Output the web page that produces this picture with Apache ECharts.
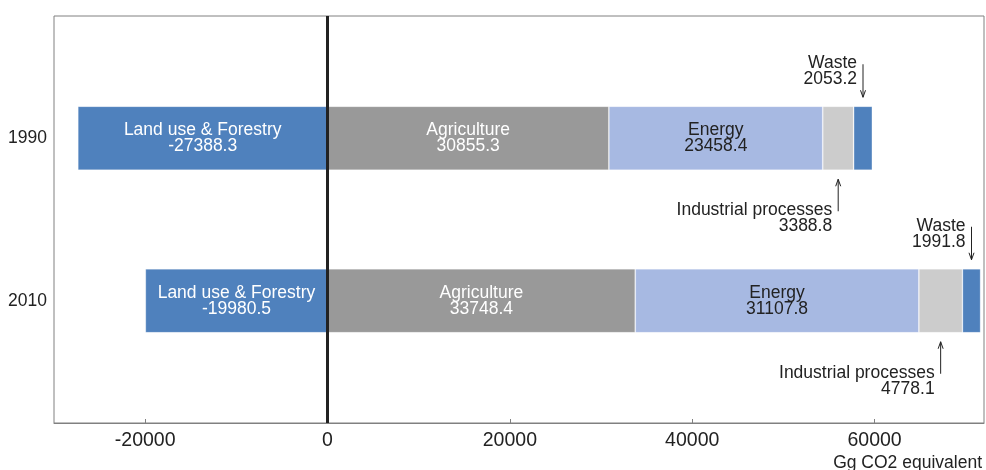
<!DOCTYPE html>
<html>
<head>
<meta charset="utf-8">
<script src="https://cdn.jsdelivr.net/npm/echarts@6/dist/echarts.min.js"></script>
<style>
html,body{margin:0;padding:0;background:#fff;}
#chart{width:986px;height:470px;}
</style>
</head>
<body>
<div id="chart"></div>
<script>
// ---- data ----
const years = ['1990', '2010'];
const landUse = [-27388.3, -19980.5];
const agriculture = [30855.3, 33748.4];
const energy = [23458.4, 31107.8];
const industrial = [3388.8, 4778.1];
const waste = [2053.2, 1991.8];
const xTicks = [-20000, 0, 20000, 40000, 60000];
const unitLabel = 'Gg CO2 equivalent';

// ---- styles ----
const FONT = '"Liberation Sans", Arial, Helvetica, sans-serif';
const TXT = '#222222';
const FRAME = '#808080';
const BAR_W = 64;
const C_LAND = '#4f81bd';
const C_AGRI = '#999999';
const C_ENER = '#a7b9e2';
const C_IND = '#cccccc';
const C_WASTE = '#4f81bd';
const BORDER = { borderColor: 'rgba(255,255,255,0.35)', borderWidth: 0.8 };

// annotation items for small segments (computed from stacked data)
const annots = [];
years.forEach((y, i) => {
  const base1 = agriculture[i] + energy[i];
  annots.push({ year: y, center: base1 + industrial[i] / 2, text: 'Industrial processes\n' + industrial[i], side: 'bottom' });
  const base2 = base1 + industrial[i];
  annots.push({ year: y, center: base2 + waste[i] / 2, text: 'Waste\n' + waste[i], side: 'top' });
});

const chart = echarts.init(document.getElementById('chart'), null, { renderer: 'canvas' });

function inLabel(color) {
  return {
    show: true, position: 'inside', formatter: p => p.seriesName + '\n' + p.value,
    color: color, fontFamily: FONT, fontSize: 17.5, lineHeight: 16
  };
}

const option = {
  animation: false,
  backgroundColor: '#ffffff',
  textStyle: { fontFamily: FONT },
  grid: [
    { left: 54, right: 2, top: 16, bottom: 47, show: true, borderColor: FRAME, borderWidth: 1, backgroundColor: 'transparent' },
    { left: 54, right: 2, top: 57, bottom: 88 }
  ],
  xAxis: [
    {
      type: 'value', gridIndex: 0, min: -30000, max: 72000,
      splitLine: { show: false },
      axisLine: { show: true, lineStyle: { color: FRAME, width: 1 } },
      axisTick: { show: true, inside: true, length: 4, lineStyle: { color: FRAME }, customValues: xTicks },
      axisLabel: { color: TXT, fontSize: 19.5, fontFamily: FONT, margin: 8, customValues: xTicks, formatter: v => String(v) }
    },
    {
      type: 'value', gridIndex: 1, min: -30000, max: 72000, show: false, splitLine: { show: false }
    }
  ],
  yAxis: [
    { type: 'value', gridIndex: 0, min: 0, max: 1, show: false, splitLine: { show: false } },
    {
      type: 'category', gridIndex: 1, data: years, inverse: true,
      axisLine: { show: false }, axisTick: { show: false },
      axisLabel: { color: TXT, fontSize: 17.5, fontFamily: FONT, margin: 7 }
    }
  ],
  graphic: [
    { type: 'text', right: 4, top: 454, style: { text: unitLabel, fill: TXT, font: '17.5px ' + FONT } }
  ],
  series: [
    {
      name: 'Land use & Forestry', type: 'bar', stack: 'tot', xAxisIndex: 1, yAxisIndex: 1,
      barWidth: BAR_W, data: landUse, itemStyle: Object.assign({ color: C_LAND }, BORDER), label: inLabel('#ffffff')
    },
    {
      name: 'Agriculture', type: 'bar', stack: 'tot', xAxisIndex: 1, yAxisIndex: 1,
      barWidth: BAR_W, data: agriculture, itemStyle: Object.assign({ color: C_AGRI }, BORDER), label: inLabel('#ffffff')
    },
    {
      name: 'Energy', type: 'bar', stack: 'tot', xAxisIndex: 1, yAxisIndex: 1,
      barWidth: BAR_W, data: energy, itemStyle: Object.assign({ color: C_ENER }, BORDER), label: inLabel(TXT)
    },
    {
      name: 'Industrial processes', type: 'bar', stack: 'tot', xAxisIndex: 1, yAxisIndex: 1,
      barWidth: BAR_W, data: industrial, itemStyle: Object.assign({ color: C_IND }, BORDER)
    },
    {
      name: 'Waste', type: 'bar', stack: 'tot', xAxisIndex: 1, yAxisIndex: 1,
      barWidth: BAR_W, data: waste, itemStyle: Object.assign({ color: C_WASTE }, BORDER)
    },
    {
      name: 'annotations', type: 'custom', xAxisIndex: 1, yAxisIndex: 1, z: 6, silent: true,
      data: annots.map(a => [a.center, a.year]),
      renderItem: function (params, api) {
        const a = annots[params.dataIndex];
        const c = api.coord([api.value(0), api.value(1)]);
        const half = BAR_W / 2;
        const x = c[0];
        let tail, tip, dir, textY;
        if (a.side === 'top') {
          tail = c[1] - half - 42; tip = c[1] - half - 9; dir = 1; textY = c[1] - half - 35;
        } else {
          tail = c[1] + half + 41; tip = c[1] + half + 9; dir = -1; textY = c[1] + half + 48;
        }
        const stroke = { stroke: '#222', lineWidth: 1, fill: null };
        return {
          type: 'group',
          children: [
            { type: 'line', shape: { x1: x, y1: tail, x2: x, y2: tip }, style: stroke },
            { type: 'polyline', shape: { points: [[x - 2.5, tip - dir * 7], [x, tip], [x + 2.5, tip - dir * 7]] }, style: stroke },
            { type: 'text', style: { text: a.text, x: x - 6, y: textY, align: 'right', verticalAlign: 'middle',
              fill: TXT, font: '17.5px ' + FONT, lineHeight: 16 } }
          ]
        };
      }
    },
    {
      name: 'zero', type: 'line', xAxisIndex: 0, yAxisIndex: 0, z: 10, data: [], silent: true,
      markLine: {
        silent: true, symbol: ['none', 'none'], label: { show: false },
        lineStyle: { color: '#222222', width: 3, type: 'solid' },
        data: [{ xAxis: 0 }]
      }
    }
  ]
};
chart.setOption(option);
</script>
</body>
</html>
